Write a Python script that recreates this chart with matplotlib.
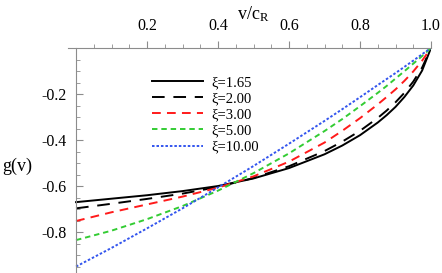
import matplotlib
matplotlib.use("Agg")
import matplotlib.pyplot as plt
from matplotlib.ticker import FixedLocator

plt.rcParams['font.family'] = ['Liberation Serif', 'DejaVu Serif']
plt.rcParams['mathtext.fontset'] = 'custom'
plt.rcParams['mathtext.rm'] = 'Liberation Serif'
plt.rcParams['mathtext.it'] = 'Liberation Serif:italic'

# Data
v = [0.0, 0.1, 0.2, 0.3, 0.4, 0.5, 0.6, 0.7, 0.75, 0.8, 0.85, 0.875, 0.9, 0.925, 0.95, 0.975, 1.0]
g_165 = [-0.670, -0.655, -0.640, -0.622, -0.600, -0.567, -0.522, -0.462, -0.424, -0.379, -0.324, -0.292, -0.256, -0.213, -0.163, -0.098, 0.0]
g_200 = [-0.697, -0.677, -0.656, -0.633, -0.604, -0.565, -0.514, -0.448, -0.407, -0.360, -0.304, -0.272, -0.236, -0.195, -0.146, -0.085, 0.0]
g_300 = [-0.752, -0.714, -0.680, -0.646, -0.607, -0.558, -0.494, -0.411, -0.360, -0.305, -0.245, -0.213, -0.180, -0.143, -0.102, -0.055, 0.0]
g_500 = [-0.835, -0.794, -0.744, -0.687, -0.620, -0.544, -0.458, -0.361, -0.309, -0.253, -0.195, -0.165, -0.133, -0.101, -0.068, -0.035, 0.0]
g_1000 = [-0.950, -0.869, -0.784, -0.697, -0.606, -0.513, -0.416, -0.317, -0.266, -0.214, -0.161, -0.135, -0.109, -0.082, -0.055, -0.027, 0.0]

labels = ['ξ=1.65', 'ξ=2.00', 'ξ=3.00', 'ξ=5.00', 'ξ=10.00']
x_ticks = [0.2, 0.4, 0.6, 0.8, 1.0]
x_ticklabels = ['0.2', '0.4', '0.6', '0.8', '1.0']
y_ticks = [-0.2, -0.4, -0.6, -0.8]
y_ticklabels = ['-0.2', '-0.4', '-0.6', '-0.8']

W, H = 442, 273
fig = plt.figure(figsize=(W / 100, H / 100), dpi=100)
ax = fig.add_axes([68 / W, 0.0, (431 - 68) / W, (273 - 48) / H])

series = [g_165, g_200, g_300, g_500, g_1000]
styles = [
    dict(color='black', linestyle='-', lw=1.4),
    dict(color='black', linestyle=(0, (6.5, 4.5)), lw=1.4),
    dict(color='#ff1a1a', linestyle=(0, (4.5, 3.2)), lw=1.4),
    dict(color='#33cc33', linestyle=(0, (2.8, 2.0)), lw=1.4),
    dict(color='#3355ee', linestyle=(0, (1.3, 1.0)), lw=1.4),
]
for ys, st, lab in zip(series, styles, labels):
    ax.plot(v, ys, label=lab, **st)

ax.set_xlim(-0.0226, 1.0)
ax.set_ylim(-0.978, 0.0)

axis_gray = '#8c8c8c'
for s in ['bottom', 'right']:
    ax.spines[s].set_visible(False)
ax.spines['top'].set_color(axis_gray)
ax.spines['left'].set_color(axis_gray)
ax.spines['left'].set_position(('data', 0.0))
ax.spines['top'].set_linewidth(0.8)
ax.spines['left'].set_linewidth(0.8)

ax.xaxis.set_ticks_position('top')
ax.xaxis.set_label_position('top')
ax.set_xticks(x_ticks)
ax.set_xticklabels(x_ticklabels)
ax.xaxis.set_minor_locator(FixedLocator([i * 0.05 for i in range(0, 21) if i % 4 != 0]))
ax.set_yticks(y_ticks)
ax.set_yticklabels(y_ticklabels)
ax.yaxis.set_minor_locator(FixedLocator([-i * 0.05 for i in range(1, 20) if i % 4 != 0]))

ax.tick_params(axis='x', which='major', direction='out', length=5, width=0.8,
               color=axis_gray, labelsize=11.5, pad=5)
ax.tick_params(axis='x', which='minor', direction='out', length=3, width=0.6, color=axis_gray)
ax.tick_params(axis='y', which='major', direction='in', length=5, width=0.8,
               color=axis_gray, labelsize=11.5, pad=7)
ax.tick_params(axis='y', which='minor', direction='in', length=3, width=0.6, color=axis_gray)

fig.text(253 / W, 1 - 14 / H, r'$\mathrm{v/c}_\mathrm{R}$', ha='center', va='center', fontsize=13)
fig.text(17 / W, 1 - 166 / H, 'g(v)', ha='center', va='center', fontsize=13)

leg = ax.legend(loc='upper left', bbox_to_anchor=(152 / W, 1 - 76 / H),
                bbox_transform=fig.transFigure, frameon=False, fontsize=10.5,
                handlelength=3.5, handletextpad=0.6, labelspacing=0.2, borderpad=0,
                borderaxespad=0)

fig.savefig('out.png', dpi=100)
